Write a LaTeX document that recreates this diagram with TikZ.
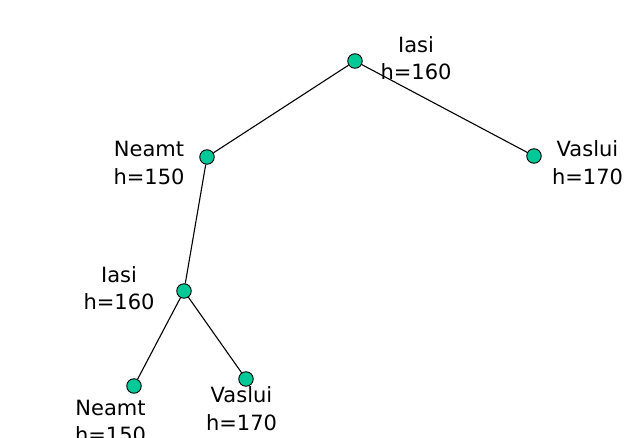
\documentclass[tikz,border=0pt]{standalone}
\usepackage{fontspec}
\setmainfont{DejaVu Sans}
\definecolor{nodegreen}{RGB}{0,200,150}
\begin{document}
\begin{tikzpicture}[x=1pt,y=-1pt,
  vertex/.style={circle,draw=black,line width=0.9pt,fill=nodegreen,minimum size=14.5pt,inner sep=0pt},
  lbl/.style={align=center,anchor=base,inner sep=0pt,font=\fontsize{21}{27.3}\selectfont},
  edge/.style={draw=black,line width=1.1pt}]
\clip (0,0) rectangle (633,438);
\useasboundingbox (0,0) rectangle (633,438);
\node[vertex] (r) at (355,61) {};
\node[vertex] (n1) at (207,157) {};
\node[vertex] (v1) at (534,156) {};
\node[vertex] (i2) at (184,291) {};
\node[vertex] (n2) at (134,386) {};
\node[vertex] (v2) at (246,379) {};
\draw[edge] (r) -- (n1);
\draw[edge] (r) -- (v1);
\draw[edge] (n1) -- (i2);
\draw[edge] (i2) -- (n2);
\draw[edge] (i2) -- (v2);
\node[lbl] (lr) at (416,80) {Iasi\\h=160};
\node[lbl] (ln1) at (149,184.3) {Neamt\\h=150};
\node[lbl] (lv1) at (587.5,184.3) {Vaslui\\h=170};
\node[lbl] (li2) at (119,310) {Iasi\\h=160};
\node[lbl] (ln2) at (110.5,442.8) {Neamt\\h=150};
\node[lbl] (lv2) at (241.5,430.3) {Vaslui\\h=170};
\end{tikzpicture}
\end{document}
